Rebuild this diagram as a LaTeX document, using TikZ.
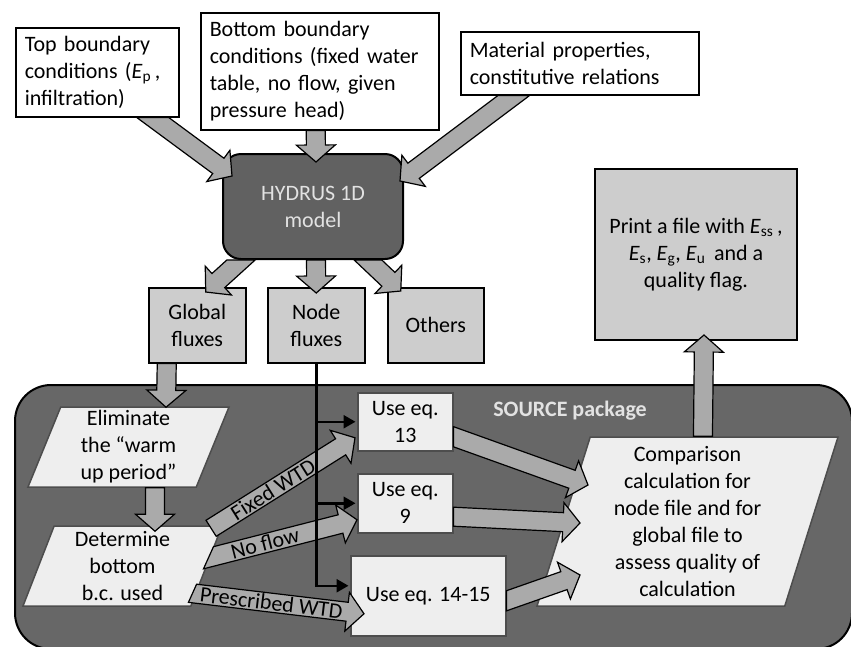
\documentclass[tikz,border=0pt]{standalone}
\usepackage{fontspec}
\setmainfont{Carlito}
\usetikzlibrary{calc,arrows.meta,shapes.geometric}

\definecolor{boxgray}{HTML}{CDCDCD}
\definecolor{darkbox}{HTML}{616161}
\definecolor{pkggray}{HTML}{676767}
\definecolor{lightbox}{HTML}{EEEEEE}
\definecolor{arrowgray}{HTML}{AAAAAA}
\definecolor{edgegray}{HTML}{4D4D4D}
\definecolor{lighttext}{HTML}{E2E2E2}

\newcommand{\figfont}{\fontsize{22}{27}\selectfont}
\newcommand{\shaftw}{9.5pt}
\newcommand{\headw}{19.5pt}
\newcommand{\headl}{17pt}

% fat arrow from #2 to #3, tail cut along direction #1
\newcommand{\blockarrow}[3][1,0]{%
  \coordinate (baA) at #2;
  \coordinate (baB) at #3;
  \coordinate (baC) at ($(baA)+(#1)$);
  \coordinate (baH) at ($(baB)!\headl!(baA)$);
  \coordinate (baL) at ($(baA)!\shaftw!90:(baB)$);
  \coordinate (baR) at ($(baA)!\shaftw!-90:(baB)$);
  \coordinate (baHL) at ($(baH)!\shaftw!90:(baB)$);
  \coordinate (baHR) at ($(baH)!\shaftw!-90:(baB)$);
  \draw[fatarrow] (intersection of baL--baHL and baA--baC) -- (baHL)
    -- ($(baH)!\headw!90:(baB)$) -- (baB) -- ($(baH)!\headw!-90:(baB)$)
    -- (baHR) -- (intersection of baR--baHR and baA--baC) -- cycle;
}

\tikzset{
  whitebox/.style={draw, line width=1.5pt, fill=white, font=\figfont, align=left,
    inner xsep=9pt, inner ysep=0pt, anchor=north west},
  fluxbox/.style={draw, line width=1.5pt, fill=boxgray, font=\figfont, align=center,
    inner sep=0pt, anchor=north west},
  modelbox/.style={draw, line width=2pt, fill=darkbox, text=lighttext, font=\figfont,
    align=center, rounded corners=18pt, inner sep=0pt, anchor=north west},
  pkgframe/.style={draw, line width=2pt, fill=pkggray, rounded corners=36pt,
    inner sep=0pt, anchor=north west},
  pkglabel/.style={font=\figfont\bfseries, text=lighttext},
  srcbox/.style={draw=edgegray, line width=1.5pt, fill=lightbox, font=\figfont,
    align=center, inner sep=0pt},
  srcpara/.style={srcbox, trapezium, trapezium stretches body},
  fatarrow/.style={fill=arrowgray, draw=black, line width=1.2pt, line join=miter},
  arrowlbl/.style={sloped, font=\figfont, inner sep=0pt},
  thinarrow/.style={line width=2.5pt, line join=miter, shorten >=1.5pt,
    -{Triangle[length=12pt,width=13pt]}}
}

\begin{document}
\begin{tikzpicture}[x=1pt,y=-1pt]
\useasboundingbox (0,0) rectangle (851,646);

\node[pkgframe, minimum width=837pt, minimum height=264pt] (srcpkg) at (14,384) {};
\node[pkglabel] (srclabel) at (570,411) {SOURCE package};

\node[whitebox, text width=145pt, minimum height=89pt] (topbc) at (15,27)
  {Top boundary\\conditions (\textit{E}\textsubscript{p}\,,\\infiltration)};
\node[whitebox, text width=220pt, minimum height=117pt] (botbc) at (200,12)
  {Bottom boundary\\conditions (fixed water\\table, no flow, given\\pressure head)};
\node[whitebox, text width=220pt, minimum height=63pt] (matp) at (460,31)
  {Material properties,\\constitutive relations};

\node[modelbox, minimum width=180pt, minimum height=105pt] (hydrus) at (222,153) {HYDRUS 1D\\model};

\node[fluxbox, minimum width=97pt, minimum height=75pt] (glob) at (148,287) {Global\\fluxes};
\node[fluxbox, minimum width=97pt, minimum height=75pt] (nodef) at (267,287) {Node\\fluxes};
\node[fluxbox, minimum width=96pt, minimum height=75pt] (others) at (387,287) {Others};
\node[fluxbox, line width=2pt, minimum width=202pt, minimum height=171pt] (print) at (594,168)
  {Print a file with \textit{E}\textsubscript{ss}\,,\\\textit{E}\textsubscript{s}, \textit{E}\textsubscript{g}, \textit{E}\textsubscript{u}\, and a\\quality flag.};

\node[srcpara, trapezium left angle=65.8, trapezium right angle=114.2,
  minimum width=201pt, minimum height=80pt] (elim) at (128.5,447) {Eliminate\\the “warm\\up period”};
\node[srcpara, trapezium left angle=65.8, trapezium right angle=114.2,
  minimum width=199pt, minimum height=80pt] (det) at (122.5,566) {Determine\\bottom\\b.c. used};
\node[srcbox, anchor=north west, minimum width=95pt, minimum height=58pt] (useA) at (357,392) {Use eq.\\13};
\node[srcbox, anchor=north west, minimum width=95pt, minimum height=59pt] (useB) at (357,473) {Use eq.\\9};
\node[srcbox, anchor=north west, minimum width=155pt, minimum height=80pt] (useC) at (350,555) {Use eq. 14-15};
\node[srcpara, trapezium left angle=70.5, trapezium right angle=109.5,
  minimum width=301pt, minimum height=169pt] (comp) at (687.5,521.5)
  {Comparison\\calculation for\\node file and for\\global file to\\assess quality of\\calculation};

% inputs and outputs of the model
\blockarrow{([xshift=55.5pt]topbc.south)}{([xshift=10pt,yshift=-23pt]hydrus.north west)}
\blockarrow{([xshift=-4pt]botbc.south)}{([xshift=3pt,yshift=-9pt]hydrus.north)}
\blockarrow{([xshift=-66pt]matp.south)}{([xshift=-4pt,yshift=-28pt]hydrus.north east)}
\blockarrow{([xshift=-72pt]hydrus.south)}{([xshift=8.5pt,yshift=-5pt]glob.north)}
\blockarrow{([xshift=3pt]hydrus.south)}{([yshift=-6pt]nodef.north)}
\blockarrow{([xshift=55pt]hydrus.south)}{([xshift=-35pt,yshift=-4pt]others.north)}

% SOURCE package
\blockarrow{([xshift=-30.5pt]glob.south)}{([xshift=37.5pt,yshift=-1pt]elim.north)}
\blockarrow{([xshift=26.5pt]elim.south)}{([xshift=32.5pt,yshift=-6pt]det.north)}
\blockarrow[92,145]{([xshift=-12pt,yshift=-3pt]det.top right corner)}{([xshift=-2pt,yshift=-16pt]useA.west)}
\path (baA) -- (baB) node[arrowlbl, pos=0.43] {Fixed WTD};
\blockarrow[-36,80]{([xshift=-14.6pt,yshift=-32.5pt]det.top right corner)}{([yshift=-16.5pt]useB.west)}
\path (baA) -- (baB) node[arrowlbl, pos=0.38] {No flow};
\blockarrow[-36,80]{([xshift=-30.6pt,yshift=-68pt]det.top right corner)}{([xshift=14pt,yshift=-18pt]useC.west)}
\path (baA) -- (baB) node[arrowlbl, pos=0.46] {Prescribed WTD};
\blockarrow[0,1]{([yshift=-15pt]useA.east)}{([xshift=-99.5pt,yshift=36.5pt]comp.center)}
\blockarrow[0,1]{([yshift=-13.5pt]useB.east)}{([xshift=-107.5pt,yshift=-1.5pt]comp.center)}
\blockarrow[0,1]{([yshift=-5pt]useC.east)}{([xshift=-107.5pt,yshift=-53.5pt]comp.center)}
\blockarrow{([xshift=15.5pt]comp.north)}{([xshift=8pt,yshift=6pt]print.south)}

\draw[thinarrow] (nodef.south) |- ([yshift=10pt]useC.west);
\draw[thinarrow] (nodef.south |- useA.west) -- (useA.west);
\draw[thinarrow] (nodef.south |- useB.west) -- (useB.west);
\end{tikzpicture}
\end{document}
